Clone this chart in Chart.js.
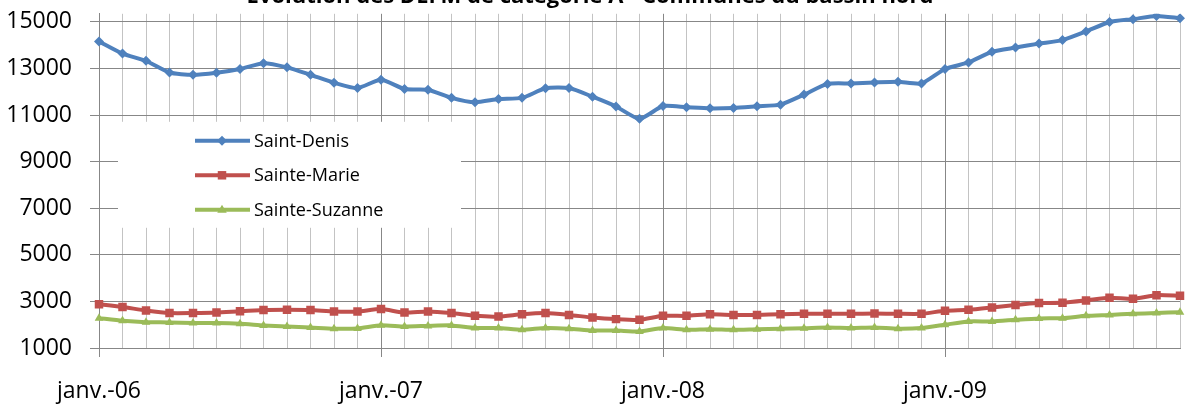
<!DOCTYPE html>
<html lang="fr">
<head>
  <meta charset="UTF-8" />
  <title>DEFM catégorie A - bassin nord</title>
  <script src="https://cdn.jsdelivr.net/npm/chart.js"></script>
  <style>
    html, body { margin: 0; padding: 0; background: #fff; overflow: hidden; }
    /* the title is cut at the top in the original picture */
    #chart { display: block; margin-top: -18px; }
  </style>
</head>
<body>
<canvas id="chart" width="1212" height="423"></canvas>

<script>
// data ------------------------------------------------------
const monthNames = ['janv.', 'févr.', 'mars', 'avr.', 'mai', 'juin',
                    'juil.', 'août', 'sept.', 'oct.', 'nov.', 'déc.'];
const years = ['06', '07', '08', '09'];
// janv.-06 .. nov.-09
const months = years.flatMap(y => monthNames.map(m => `${m}-${y}`)).slice(0, 47);

const yTicks = [1000, 3000, 5000, 7000, 9000, 11000, 13000, 15000];

const saintDenis = [
  14160, 13640, 13330, 12830, 12730, 12820, 12980, 13230, 13050, 12730, 12390, 12160,
  12520, 12120, 12090, 11740, 11550, 11690, 11740, 12150, 12160, 11790, 11370, 10840,
  11390, 11340, 11290, 11310, 11380, 11450, 11880, 12340, 12360, 12400, 12430, 12360,
  12980, 13260, 13720, 13900, 14070, 14220, 14590, 15000, 15120, 15260, 15160
];
const sainteMarie = [
  2880, 2760, 2610, 2500, 2500, 2520, 2580, 2630, 2640, 2630, 2570, 2570,
  2670, 2520, 2570, 2500, 2380, 2350, 2450, 2500, 2420, 2310, 2240, 2210,
  2380, 2380, 2450, 2420, 2420, 2450, 2470, 2470, 2470, 2480, 2470, 2470,
  2600, 2640, 2740, 2850, 2930, 2940, 3040, 3160, 3110, 3270, 3240
];
const sainteSuzanne = [
  2280, 2170, 2110, 2100, 2070, 2070, 2040, 1970, 1920, 1880, 1830, 1840,
  1980, 1920, 1950, 1970, 1860, 1860, 1780, 1860, 1830, 1750, 1750, 1710,
  1860, 1780, 1810, 1780, 1810, 1830, 1850, 1880, 1860, 1880, 1830, 1860,
  2000, 2140, 2140, 2210, 2270, 2280, 2380, 2420, 2470, 2500, 2540
];

// style -----------------------------------------------------
const FONT = "'Open Sans', 'DejaVu Sans', sans-serif";
const dark = '#878787';
const light = '#c3c3c3';

// legend drawn inside the plot, over the gridlines ------------
function marker(ctx, style, x, y, r) {
  ctx.beginPath();
  if (style === 'rectRot') {
    ctx.moveTo(x, y - r); ctx.lineTo(x + r, y); ctx.lineTo(x, y + r); ctx.lineTo(x - r, y);
  } else if (style === 'rect') {
    const s = r * Math.SQRT1_2;
    ctx.rect(x - s, y - s, 2 * s, 2 * s);
  } else {
    ctx.moveTo(x, y - r); ctx.lineTo(x + r * 0.95, y + r * 0.6); ctx.lineTo(x - r * 0.95, y + r * 0.6);
  }
  ctx.closePath();
  ctx.fill();
}

const insideLegend = {
  id: 'insideLegend',
  beforeDatasetsDraw(chart) {
    const ctx = chart.ctx;
    const top = chart.chartArea.top;   // legend sits 108px below the plot top
    ctx.save();
    ctx.fillStyle = '#fff';
    ctx.fillRect(118, top + 108, 343, 106);
    ctx.font = `18px ${FONT}`;
    ctx.textBaseline = 'middle';
    chart.data.datasets.forEach((ds, i) => {
      const y = top + 127 + i * 34.5;
      ctx.strokeStyle = ds.borderColor;
      ctx.lineWidth = 4;
      ctx.beginPath(); ctx.moveTo(195, y); ctx.lineTo(250, y); ctx.stroke();
      ctx.fillStyle = ds.borderColor;
      marker(ctx, ds.pointStyle, 222, y, ds.pointRadius);
      ctx.fillStyle = '#000';
      ctx.fillText(ds.label, 254, y + 1);
    });
    ctx.restore();
  }
};

// chart -----------------------------------------------------
new Chart(document.getElementById('chart'), {
  type: 'line',
  data: {
    labels: months,
    datasets: [
      {label: 'Saint-Denis', data: saintDenis, borderColor: '#4f81bd', backgroundColor: '#4f81bd',
       pointStyle: 'rectRot', pointRadius: 5},
      {label: 'Sainte-Marie', data: sainteMarie, borderColor: '#c0504d', backgroundColor: '#c0504d',
       pointStyle: 'rect', pointRadius: 6},
      {label: 'Sainte-Suzanne', data: sainteSuzanne, borderColor: '#9bbb59', backgroundColor: '#9bbb59',
       pointStyle: 'triangle', pointRadius: 5}
    ].map(d => ({...d, borderWidth: 4, tension: 0.2, pointBorderWidth: 0, pointHoverRadius: d.pointRadius}))
  },
  options: {
    responsive: false,
    animation: false,
    devicePixelRatio: 1,
    // canvas is 24px wider than the window so the title centres where it did
    layout: {padding: {left: 0, right: 32, top: 0, bottom: 0}},
    plugins: {
      legend: {display: false},
      tooltip: {enabled: false},
      title: {
        display: true,
        text: 'Evolution des DEFM de catégorie A - Communes du bassin nord',
        color: '#000',
        font: {family: FONT, size: 22, weight: 'bold', lineHeight: 1.2},
        padding: {top: 0, bottom: 4}
      }
    },
    scales: {
      x: {
        offset: false,
        afterFit: s => { s.height = 57; },
        grid: {
          color: c => c.index % 12 === 0 ? dark : light,
          tickColor: c => c.index % 12 === 0 ? dark : 'rgba(0,0,0,0)',
          tickLength: 9,
          lineWidth: 1
        },
        border: {color: dark},
        ticks: {
          autoSkip: false, maxRotation: 0, minRotation: 0,
          padding: 21, color: '#000',
          font: {family: FONT, size: 23},
          callback(v, i) { return i % 12 === 0 ? this.getLabelForValue(v) : ''; }
        }
      },
      y: {
        min: 1000, max: 15350,
        afterFit: s => { s.width = 99; },
        afterBuildTicks: s => { s.ticks = yTicks.map(v => ({value: v})); },
        grid: {color: dark, tickColor: dark, tickLength: 9},
        border: {color: dark},
        ticks: {padding: 18, color: '#000', font: {family: FONT, size: 23},
                callback: v => String(v)}
      }
    }
  },
  plugins: [insideLegend]
});
</script>
</body>
</html>
